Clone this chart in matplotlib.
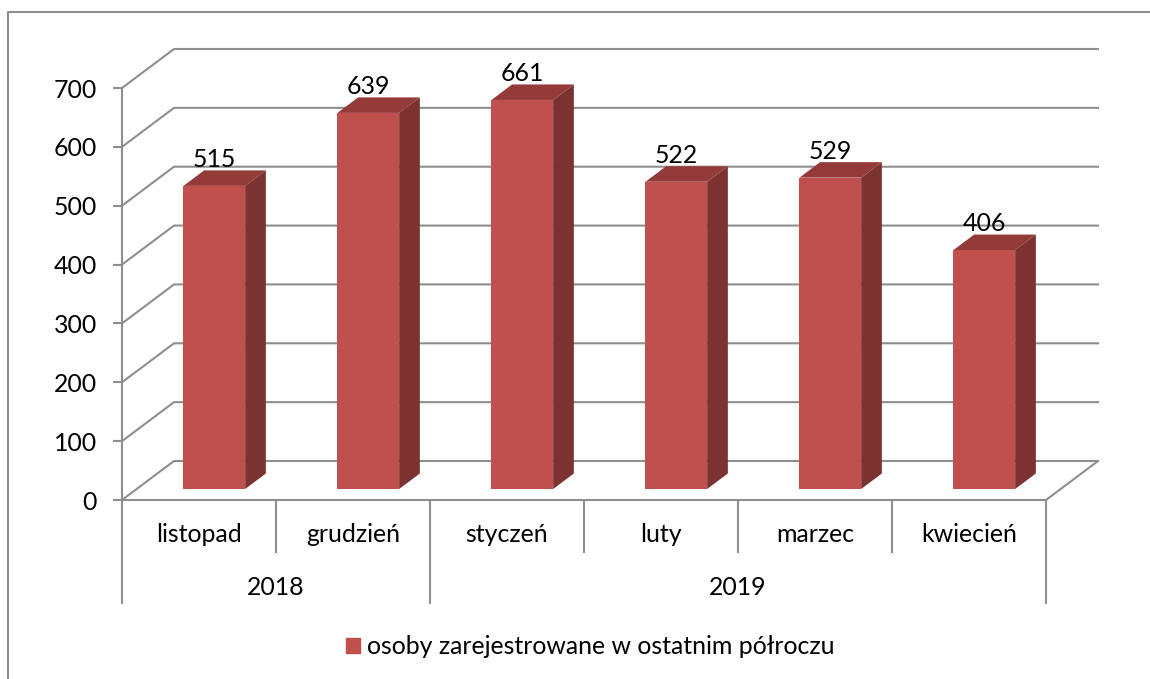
import matplotlib
matplotlib.use("Agg")
import matplotlib.pyplot as plt
from matplotlib.lines import Line2D
from matplotlib.patches import Patch
import numpy as np

months = ["listopad", "grudzień", "styczeń", "luty", "marzec", "kwiecień"]
values = [515, 639, 661, 522, 529, 406]
years = ["2018", "2019"]
year_spans = [(0, 2), (2, 6)]
y_ticks = [0, 100, 200, 300, 400, 500, 600, 700]
series_name = "osoby zarejestrowane w ostatnim półroczu"

W, H = 1150, 679
L, R, Y0, Y7 = 122, 1046, 500, 88
px_x = (R - L) / 6
px_y = (Y0 - Y7) / 700

FRONT, SIDE, TOP = "#C0504D", "#7B3230", "#943A38"
GRID = "#8E8E8E"
TXT = "#000000"
FS = 17.9
LW = 1.5

plt.rcParams["font.family"] = ["Lato", "DejaVu Sans"]
fig = plt.figure(figsize=(W / 100, H / 100), dpi=100, facecolor="white")
ax = fig.add_axes([L / W, 1 - Y0 / H, (R - L) / W, (Y0 - Y7) / H])
ax.set_xlim(0, 6)
ax.set_ylim(0, 700)
ax.patch.set_visible(False)
for s in ["top", "right"]:
    ax.spines[s].set_visible(False)
for s in ["left", "bottom"]:
    ax.spines[s].set_color(GRID)
    ax.spines[s].set_linewidth(LW)

# wall depth and bar depth, in data units
wall_dx, wall_dy = 52 / px_x, 39 / px_y
bar_dx, bar_dy = 20.7 / px_x, 15.5 / px_y
shift_x, base = 15.3 / px_x, 11 / px_y
bar_w = 61.7 / px_x

# gridlines on the back wall and the diagonals on the side wall
for t in y_ticks:
    ax.plot([0, wall_dx, 6 + wall_dx], [t, t + wall_dy, t + wall_dy],
            color=GRID, lw=LW, clip_on=False, zorder=1, solid_joinstyle="miter")
ax.plot([6, 6 + wall_dx], [0, wall_dy], color=GRID, lw=LW, clip_on=False, zorder=1)

# bars
xc = np.arange(6) + 0.5 + shift_x
ax.bar(xc, values, width=bar_w, bottom=base, color=FRONT, zorder=3, clip_on=False)
for x, v in zip(xc, values):
    xl, xr, yt = x - bar_w / 2, x + bar_w / 2, base + v
    ax.fill([xr, xr + bar_dx, xr + bar_dx, xr],
            [base, base + bar_dy, yt + bar_dy, yt], color=SIDE, lw=0, zorder=3, clip_on=False)
    ax.fill([xl, xr, xr + bar_dx, xl + bar_dx],
            [yt, yt, yt + bar_dy, yt + bar_dy], color=TOP, lw=0, zorder=3, clip_on=False)
    ax.text(x, yt + 19 / px_y, str(v), ha="center", va="baseline",
            fontsize=FS, color=TXT, zorder=4)

# y axis
ax.set_yticks(y_ticks)
ax.tick_params(axis="y", length=6.5, width=LW, color=GRID, labelsize=FS,
               labelcolor=TXT, pad=11.5)

# multi-level x axis
ax.set_xticks(np.arange(6) + 0.5, months)
ax.tick_params(axis="x", length=0, labelsize=FS, labelcolor=TXT, pad=25)
for lab in ax.get_xticklabels():
    lab.set_verticalalignment("center")
short_y, long_y = -(552 - Y0) / px_y, -(603 - Y0) / px_y
for x in range(7):
    ax.plot([x, x], [0, long_y if x in (0, 2, 6) else short_y],
            color=GRID, lw=LW, clip_on=False, zorder=1)
for yr, (a, b) in zip(years, year_spans):
    ax.text((a + b) / 2, -(587.5 - Y0) / px_y, yr, ha="center", va="center",
            fontsize=FS, color=TXT)

# outer frame
fig.add_artist(Line2D([8 / W, 8 / W, 1], [0, 1 - 12 / H, 1 - 12 / H], color=GRID, lw=LW))

# legend
fig.legend(handles=[Patch(color=FRONT, label=series_name)], loc="center",
           bbox_to_anchor=(590.5 / W, 1 - 646.5 / H), frameon=False, fontsize=FS,
           handlelength=0.56, handleheight=0.56, handletextpad=0.28, labelcolor=TXT)

fig.savefig("out.png", dpi=100)
